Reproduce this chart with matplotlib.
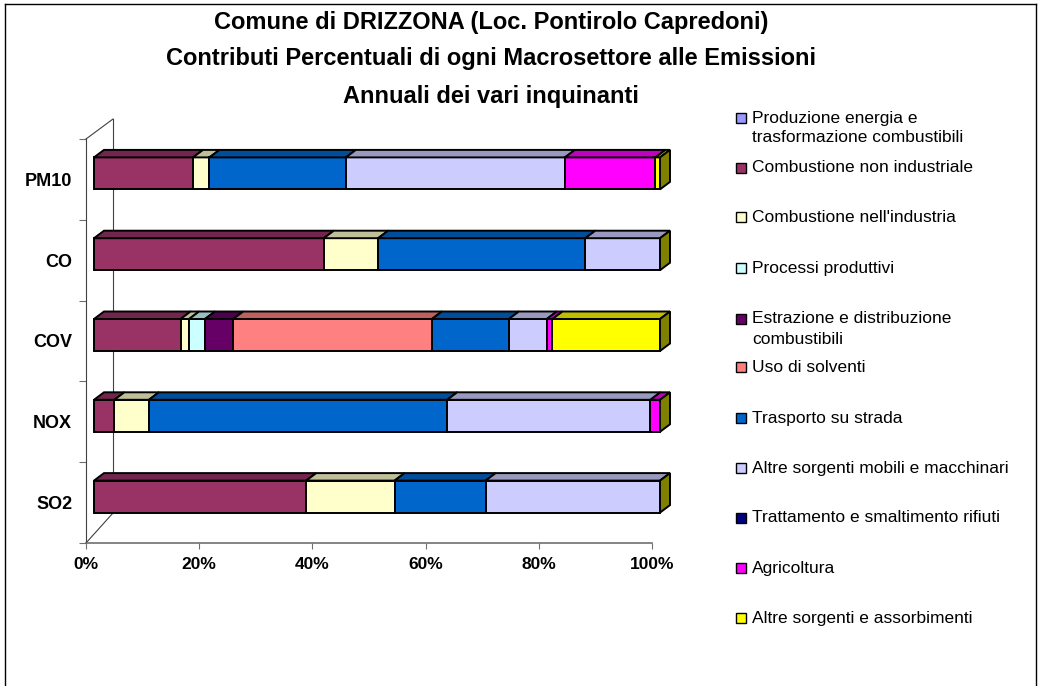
import matplotlib
matplotlib.use("Agg")
import matplotlib.pyplot as plt
from matplotlib.patches import Polygon, Rectangle
from matplotlib.lines import Line2D
import numpy as np

plt.rcParams["font.family"] = ["Liberation Sans", "DejaVu Sans"]

# ---------------------------------------------------------------------------
# data (percent contribution of each macrosector, per pollutant)
# ---------------------------------------------------------------------------
TITLE_LINES = [
    "Comune di DRIZZONA (Loc. Pontirolo Capredoni)",
    "Contributi Percentuali di ogni Macrosettore alle Emissioni",
    "Annuali dei vari inquinanti",
]
pollutants = ["PM10", "CO", "COV", "NOX", "SO2"]   # top -> bottom

sectors = [
    "Produzione energia e\ntrasformazione combustibili",
    "Combustione non industriale",
    "Combustione nell'industria",
    "Processi produttivi",
    "Estrazione e distribuzione\ncombustibili",
    "Uso di solventi",
    "Trasporto su strada",
    "Altre sorgenti mobili e macchinari",
    "Trattamento e smaltimento rifiuti",
    "Agricoltura",
    "Altre sorgenti e assorbimenti",
]
sector_colors = ["#9999FF", "#993366", "#FFFFCC", "#CCFFFF", "#660066", "#FF8080",
                 "#0066CC", "#CCCCFF", "#000080", "#FF00FF", "#FFFF00"]

#                      PM10   CO    COV   NOX   SO2
produzione_energia = [0.0,  0.0,  0.0,  0.0,  0.0]
comb_non_ind       = [17.5, 40.6, 15.3, 3.6,  37.5]
comb_industria     = [2.9,  9.6,  1.5,  6.1,  15.6]
processi_prod      = [0.0,  0.0,  2.8,  0.0,  0.0]
estrazione         = [0.0,  0.0,  5.0,  0.0,  0.0]
solventi           = [0.0,  0.0,  35.1, 0.0,  0.0]
trasporto          = [24.1, 36.6, 13.6, 52.7, 16.1]
altre_mobili       = [38.7, 13.2, 6.7,  35.9, 30.8]
rifiuti            = [0.0,  0.0,  0.0,  0.0,  0.0]
agricoltura        = [16.0, 0.0,  1.0,  1.7,  0.0]
altre_sorgenti     = [0.8,  0.0,  19.0, 0.0,  0.0]

xticks = [0, 20, 40, 60, 80, 100]
xticklabels = ["0%", "20%", "40%", "60%", "80%", "100%"]

series = np.array([produzione_energia, comb_non_ind, comb_industria, processi_prod,
                   estrazione, solventi, trasporto, altre_mobili, rifiuti,
                   agricoltura, altre_sorgenti])

# ---------------------------------------------------------------------------
# layout (pixels of a 1040x686 canvas)
# ---------------------------------------------------------------------------
W, H = 1040, 686
AX_L, AX_R, AX_T, AX_B = 86, 652, 139, 543
PX_X = (AX_R - AX_L) / 100.0
PX_Y = (AX_B - AX_T) / len(pollutants)


def shade(c, f):
    r, g, b = matplotlib.colors.to_rgb(c)
    return (r * f, g * f, b * f)


fig = plt.figure(figsize=(W / 100, H / 100), dpi=100)
ax = fig.add_axes([AX_L / W, 1 - AX_B / H, (AX_R - AX_L) / W, (AX_B - AX_T) / H])
ax.set_xlim(0, 100)
ax.set_ylim(0, len(pollutants))
for s in ax.spines.values():
    s.set_visible(False)

# 3D-ish offsets in data units
dxf, dyf = 8 / PX_X, 6 / PX_Y           # bar front face shift from wall
bh = 32 / PX_Y                          # bar height
ddx, ddy = 10 / PX_X, 7.5 / PX_Y        # bar depth
wdx, wdy_top, wdy_bot = 27 / PX_X, 20 / PX_Y, 30 / PX_Y   # wall depth

wall = dict(color="#404040", lw=0.8, clip_on=False)
ax.add_line(Line2D([0, 0], [0, 5], **wall))
ax.add_line(Line2D([wdx, wdx], [wdy_bot, 5 + wdy_top], **wall))
ax.add_line(Line2D([0, wdx], [5, 5 + wdy_top], **wall))
ax.add_line(Line2D([0, wdx], [0, wdy_bot], **wall))
ax.add_line(Line2D([0, 100], [0, 0], color="#707070", lw=1.2, clip_on=False))

ypos = np.arange(len(pollutants))[::-1] + 0.5
for ci, yc in enumerate(ypos):
    y0 = yc + dyf - bh / 2
    y1 = y0 + bh
    left = 0.0
    for si, vals in enumerate(series):
        v = vals[ci]
        if v <= 0:
            continue
        col = sector_colors[si]
        x0, x1 = left + dxf, left + v + dxf
        ax.barh(y0, v, left=x0, height=bh, align="edge", color=col,
                edgecolor="black", lw=1.4, clip_on=False, zorder=3)
        ax.add_patch(Polygon([[x0, y1], [x1, y1], [x1 + ddx, y1 + ddy], [x0 + ddx, y1 + ddy]],
                             closed=True, facecolor=shade(col, 0.75), edgecolor="black",
                             lw=1.4, clip_on=False, zorder=3))
        left += v
    xe = left + dxf
    ax.add_patch(Polygon([[xe, y0], [xe + ddx, y0 + ddy], [xe + ddx, y1 + ddy], [xe, y1]],
                         closed=True, facecolor=shade(sector_colors[-1], 0.5),
                         edgecolor="black", lw=1.4, clip_on=False, zorder=3))

ax.set_xticks(xticks)
ax.set_xticklabels(xticklabels, fontsize=12.5, fontweight="bold")
ax.set_yticks(np.arange(len(pollutants) + 1))
ax.set_yticklabels([])
ax.set_yticks(ypos, minor=True)
ax.set_yticklabels(pollutants, minor=True, fontsize=13, fontweight="bold")
ax.tick_params(axis="x", length=4, color="#707070", pad=6)
ax.tick_params(axis="y", which="major", length=5, color="#707070")
ax.tick_params(axis="y", which="minor", length=0, pad=10)

# title
for i, line in enumerate(TITLE_LINES):
    fig.text(491 / W, 1 - (22 + 37 * i) / H, line, ha="center", va="center",
             fontsize=17, fontweight="bold")

# legend, drawn by hand
leg_y = [118, 168, 217, 268, 319, 367, 418, 468, 518, 568, 618]
for lab, col, yy in zip(sectors, sector_colors, leg_y):
    fig.patches.append(Rectangle((736 / W, 1 - (yy + 5) / H), 10 / W, 10 / H,
                                 transform=fig.transFigure, facecolor=col,
                                 edgecolor="black", lw=1.0))
    for k, part in enumerate(lab.split("\n")):
        fig.text(752 / W, 1 - (yy + 20 * k) / H, part, ha="left", va="center",
                 fontsize=12.5)

# chart area border (bottom edge lies outside the image)
for xs, ys in (([5, 5], [4, 700]), ([5, 1036], [4, 4]), ([1036, 1036], [4, 700])):
    fig.add_artist(Line2D([x / W for x in xs], [1 - y / H for y in ys],
                          transform=fig.transFigure, color="black", lw=1.0))

fig.savefig("out.png", dpi=100)
